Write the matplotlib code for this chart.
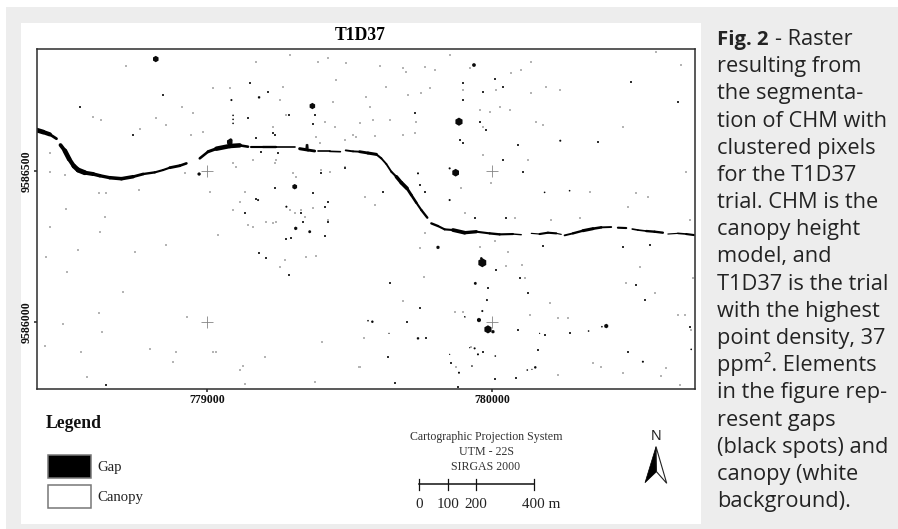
import matplotlib
matplotlib.use('Agg')
import matplotlib.pyplot as plt
from matplotlib.collections import LineCollection
from matplotlib.patches import Rectangle, Polygon
import numpy as np

W, H = 898, 529

# raster grid of the map (cells, row 0 at the top)
n_cols, n_rows = 1977, 1020
west, east = 778402, 780712
north, south = 9586904, 9585780.5
x_ticks = [779000, 780000]
y_ticks = [9586000, 9586500]

# river gap, reach by reach: col, row, width
river = [
    [(0,244,8),(20,250,12),(40,257,6),(60,270,6)],
    [(72,289,6),(85,306,10),(98,331,10),(112,352,8),(125,364,12),(145,372,9),(170,376,8),(190,381,7),
     (220,387,7),(255,390,8),(290,384,7),(320,376,5),(355,371,5),(380,364,4),(400,357,5),(430,351,7),(450,344,4)],
    [(490,329,5),(515,309,6),(540,300,7),(580,292,12),(610,290,7),(635,294,4)],
    [(645,295,3),(680,295,6),(720,295,4),(775,295,3)],
    [(790,300,5),(815,304,8),(835,307,4)],
    [(845,308,3),(880,308,4),(912,309,3)],
    [(928,305,4),(950,308,4),(970,309,4),(995,313,8),(1020,317,5),(1035,329,4),(1050,346,4),(1065,369,4),
     (1080,384,5),(1095,402,10),(1112,419,6),(1125,439,6),(1140,462,5),(1155,484,4),(1173,507,6)],
    [(1185,524,4),(1205,532,6),(1225,542,3),(1250,544,6),(1285,552,10),(1320,549,4),(1360,554,5),
     (1390,557,5),(1430,556,4),(1455,558,2)],
    [(1485,554,2),(1510,556,3),(1535,552,6),(1560,554,3),(1575,557,2)],
    [(1585,560,4),(1610,554,4),(1640,546,6),(1670,540,7),(1695,536,4),(1725,535,4)],
    [(1745,537,4),(1770,538,5)],
    [(1788,541,4),(1805,544,3),(1830,547,4),(1855,549,6),(1880,552,4)],
    [(1895,556,2),(1925,554,3),(1950,556,4),(1973,559,5)],
]

# bigger gaps: col, row, size
blobs = [(358,31,14),(828,172,14),(775,414,12),(488,376,8),(778,539,8),(820,549,7),(665,454,5),(750,474,5),(668,146,6),
         (585,154,5),(590,200,4),(590,212,4),(590,224,4),(583,274,8),(812,290,7),(1268,219,18),(1258,372,17),(1240,359,5),
         (1313,49,9),(1572,276,5),(1145,374,5),(1240,454,5),(1525,431,4),(1600,426,4),(1205,596,8),(1335,629,6),(1338,642,20),
         (1317,704,7),(1352,754,5),(1328,814,10),(1338,787,5),(1355,842,18),(1370,849,8),(1008,819,6),(995,816,4),(1710,832,10),
         (1697,834,4),(1657,847,4),(1145,869,6),(1058,854,3),(1268,972,5),(1307,952,4),(1325,917,5),(1315,899,5),(1300,897,3),
         (1240,917,3),(1377,922,4),(1473,964,4),(1497,956,6),(1487,962,3),(1820,939,5),(1510,854,3),(1965,902,4),(1285,804,3),
         (580,280,14),(812,296,8)]

# small dark specks: col, row
specks = [(710,254),(715,259),(640,104),(695,129),(758,199),(635,209),(290,259),(380,139),(130,174),(715,419),(830,432),
          (660,452),(835,199),(830,226),(855,374),(925,359),(875,459),(865,474),(765,569),(750,572),(625,494),(795,494),
          (800,519),(875,519),(690,629),(865,562),(675,311),(725,314),(660,269),(210,1009),(688,628),(668,614),(758,678),
          (1280,104),(1280,154),(1340,129),(1375,92),(1400,116),(1330,219),(1350,244),(1135,194),(1270,274),(1280,284),
          (1400,334),(1445,289),(1460,369),(1165,429),(1150,409),(1040,429),(1315,509),(1410,509),(1520,591),(1760,594),
          (1840,589),(1785,99),(1925,159),(1685,279),(1525,859),(1380,664),(1452,689),(1475,734),(1355,719),(1060,704),
          (1150,779),(1113,819),(1170,869),(1055,924),(1075,1002),(1245,944),(1340,909),(1505,904),(1445,844),(1600,854),
          (1800,709),(1825,754),(1960,834),(1775,909),(1440,989),(1375,992),(1265,1016)]

# faint grey specks: col, row
faint = [(268,51),(380,139),(195,214),(170,204),(310,242),(390,229),(360,209),(470,194),(437,176),(500,249),(465,259),
         (40,314),(40,371),(87,379),(210,432),(188,432),(308,424),(90,482),(205,504),(40,534),(190,551),(125,604),(295,609),
         (390,589),(545,559),(522,429),(445,374),(580,119),(530,119),(710,234),(750,199),(730,154),(740,114),(590,344),
         (600,354),(650,334),(720,334),(715,344),(770,374),(780,384),(855,364),(880,369),(925,354),(610,459),(590,484),
         (625,429),(635,529),(650,534),(690,519),(710,524),(720,519),(760,484),(775,494),(795,484),(805,504),(830,479),
         (875,514),(840,264),(850,284),(900,94),(930,44),(845,39),(875,29),(760,19),(660,39),(890,159),(925,274),(950,259),
         (895,234),(865,219),(1100,59),(1110,69),(1165,54),(1195,64),(1240,19),(1300,59),(1280,124),(1380,124),(1455,64),
         (1425,74),(1485,39),(1485,134),(1530,116),(1570,124),(1030,52),(1050,116),(990,144),(1000,174),(1115,139),(1180,119),
         (1155,134),(1330,184),(1360,189),(1390,174),(1420,184),(1140,219),(1060,214),(1010,214),(970,224),(960,264),(1015,262),
         (1100,259),(1135,254),(1340,234),(1500,219),(1520,229),(1760,236),(1935,49),(1860,9),(1475,334),(1340,319),(1365,404),
         (1435,509),(1545,514),(1630,509),(1275,419),(1285,494),(985,444),(1015,469),(1165,554),(1150,599),(1330,594),(1375,576),
         (1415,609),(1660,429),(1800,434),(1775,474),(1960,514),(1950,369),(1835,444),
         (30,626),(93,671),(260,731),(187,794),(80,826),(197,849),(25,892),(134,911),(152,984),(340,901),(420,911),(410,940),
         (530,911),(540,911),(610,964),(620,952),(627,1007),(685,924),(835,999),(857,879),(453,804),(730,656),(745,634),
         (808,626),(838,622),(968,956),(1410,652),(1457,649),(1465,689),(1540,764),(1100,756),(1162,684),(1255,791),(1280,789),
         (1285,804),(982,869),(970,956),(1260,954),(1305,894),(1480,799),(1565,809),(1595,809),(1770,704),(1855,734),(1810,654),
         (1970,689),(1925,799),(1945,799),(1670,944),(1695,954),(1760,974),(1890,959),(1875,982),(1565,979),(1930,1009),(1965,844)]

caption_lines = ['resulting from', 'the segmenta-', 'tion of CHM with', 'clustered pixels', 'for the T1D37',
                 'trial. CHM is the', 'canopy height', 'model, and', 'T1D37 is the trial', 'with the highest',
                 'point density, 37', 'ppm². Elements', 'in the figure rep-', 'resent gaps', '(black spots) and',
                 'canopy (white', 'background).']

serif = 'Liberation Serif'
sans = 'Open Sans'


def fx(px):
    return px / W


def fy(py):
    return 1 - py / H


def to_x(col):
    return west + np.asarray(col) * (east - west) / n_cols


def to_y(row):
    return north - np.asarray(row) * (north - south) / n_rows


def box(x0, y0, x1, y1, **kw):
    fig.add_artist(Rectangle((fx(x0), fy(y1)), (x1 - x0) / W, (y1 - y0) / H, transform=fig.transFigure, **kw))


def label(x, y, s, **kw):
    kw.setdefault('family', serif)
    kw.setdefault('ha', 'center')
    kw.setdefault('va', 'center')
    fig.text(fx(x), fy(y), s, **kw)


fig = plt.figure(figsize=(W / 100, H / 100), dpi=100, facecolor='white')
box(6, 7, W, H, fc='#ededed', ec='none', zorder=-2)
box(21, 23, 701, 523.5, fc='white', ec='none', zorder=-1)

ax = fig.add_axes([fx(36.5), fy(388.7), (695.2 - 36.5) / W, (388.7 - 48.7) / H])
ax.set_xlim(west, east)
ax.set_ylim(south, north)

for reach in river:
    c, r, w = np.array(reach).T
    pts = np.column_stack([to_x(c), to_y(r)])
    segs = np.stack([pts[:-1], pts[1:]], axis=1)
    widths = (w[:-1] + w[1:]) / 2 * 0.34
    ax.add_collection(LineCollection(segs, linewidths=widths, colors='black', capstyle='round'))

fc, fr = np.array(faint).T
sc, sr = np.array(specks).T
bc, br, bs = np.array(blobs).T
ax.scatter(to_x(fc), to_y(fr), s=0.9, marker='s', color='#b4b4b4', linewidths=0)
ax.scatter(to_x(sc), to_y(sr), s=1.1, marker='s', color='#303030', linewidths=0)
ax.scatter(to_x(bc), to_y(br), s=(bs * 0.3) ** 2 * 1.2, marker='h', color='#0a0a0a', linewidths=0)

# graticule crosses
for gx in x_ticks:
    for gy in y_ticks:
        ax.plot(gx, gy, marker='+', ms=9, mew=0.6, color='#858585', zorder=3)

ax.set_xticks(x_ticks, [str(v) for v in x_ticks], family=serif, weight='bold', fontsize=8.6, color='#111111')
ax.set_yticks(y_ticks, [str(v) for v in y_ticks], family=serif, weight='bold', fontsize=8.6, color='#111111',
              rotation=90, va='center')
ax.tick_params(axis='x', length=2.5, width=1.1, pad=1.5, color='#222222')
ax.tick_params(axis='y', length=2.5, width=1.1, pad=0, color='#222222')
for s in ax.spines.values():
    s.set_linewidth(1.1)
    s.set_color('#2c2c2c')

label(360.5, 35, 'T1D37', weight='bold', fontsize=12.7, color='black')

# legend
label(45.7, 423, 'Legend', weight='bold', fontsize=12.7, ha='left', color='#111111')
box(47.7, 454.7, 90.7, 478, fc='black', ec='#777777', lw=1.1)
box(47.7, 485.3, 90.7, 508.3, fc='white', ec='#777777', lw=1.1)
label(97.7, 467, 'Gap', fontsize=10.6, ha='left', color='#222222')
label(97.7, 497.7, 'Canopy', fontsize=10.6, ha='left', color='#222222')

# projection note and scale bar
label(486, 437, 'Cartographic Projection System', fontsize=8.6, color='#333333')
label(486, 452, 'UTM - 22S', fontsize=8.6, color='#333333')
label(486, 467, 'SIRGAS 2000', fontsize=8.6, color='#333333')
bar = [419.3, 447.7, 476.3, 533.7]
fig.add_artist(plt.Line2D([fx(bar[0]), fx(bar[-1])], [fy(484.3)] * 2, color='#111111', lw=1.1))
for b in bar:
    fig.add_artist(plt.Line2D([fx(b)] * 2, [fy(478.7), fy(490)], color='#111111', lw=0.9))
label(419.3, 504, '0', fontsize=10.9, color='#222222')
label(447.7, 504, '100', fontsize=10.9, color='#222222')
label(476.3, 504, '200', fontsize=10.9, color='#222222')
label(540.7, 504, '400 m', fontsize=10.9, color='#222222')

# north arrow
label(656, 436, 'N', family='Liberation Sans', fontsize=10.5, color='#222222')
fig.add_artist(Polygon([(fx(656), fy(446.7)), (fx(645), fy(482.7)), (fx(656.5), fy(471.7))],
                       transform=fig.transFigure, fc='black', ec='black', lw=0.5))
fig.add_artist(Polygon([(fx(656), fy(446.7)), (fx(666.7), fy(483.3)), (fx(656.5), fy(471.7))],
                       transform=fig.transFigure, fc='white', ec='#222222', lw=0.8))

# caption
cap = dict(family=sans, fontsize=15.7, color='#232323', ha='left', va='baseline')
label(716.7, 45, 'Fig. 2', **{**cap, 'fontsize': 14.6}, weight='bold')
label(775, 45, '- Raster', **cap)
for i, line in enumerate(caption_lines):
    label(716.7, 45 + 27.18 * (i + 1), line, **cap)

fig.savefig('out.png', dpi=100, facecolor='white')
